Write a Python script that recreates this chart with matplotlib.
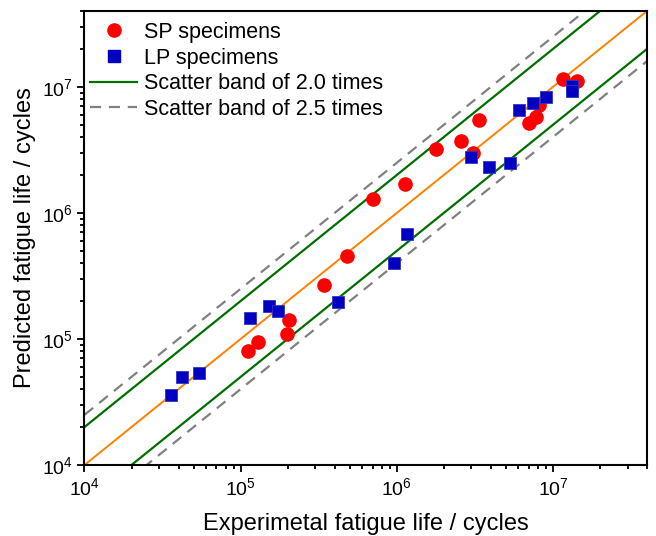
import matplotlib
matplotlib.use("Agg")
import matplotlib.pyplot as plt
from matplotlib.lines import Line2D
import numpy as np

plt.rcParams['font.family'] = ['Liberation Sans', 'DejaVu Sans']
plt.rcParams['mathtext.default'] = 'regular'

# Данные: экспериментальная / прогнозная долговечность
sp_exp = [1.12e5, 1.29e5, 2.03e5, 1.98e5, 3.40e5, 4.83e5, 7.0e5, 1.12e6, 1.77e6,
          2.58e6, 3.09e6, 3.37e6, 7.0e6, 7.8e6, 8.1e6, 1.16e7, 1.43e7]
sp_pred = [8.0e4, 9.4e4, 1.42e5, 1.10e5, 2.67e5, 4.57e5, 1.29e6, 1.70e6, 3.24e6,
           3.73e6, 3.0e6, 5.45e6, 5.2e6, 5.8e6, 7.2e6, 1.16e7, 1.12e7]

lp_exp = [3.59e4, 4.19e4, 5.38e4, 1.156e5, 1.51e5, 1.73e5, 4.21e5, 9.66e5, 1.17e6,
          2.99e6, 3.91e6, 5.33e6, 6.06e6, 7.41e6, 8.98e6, 1.33e7, 1.32e7]
lp_pred = [3.59e4, 4.98e4, 5.38e4, 1.47e5, 1.84e5, 1.68e5, 1.98e5, 4.04e5, 6.79e5,
           2.78e6, 2.30e6, 2.47e6, 6.61e6, 7.46e6, 8.26e6, 1.01e7, 9.23e6]

band_2 = 2.0
band_25 = 2.5
lim = [1e4, 4e7]

fig = plt.figure(figsize=(6.56, 5.36), dpi=100)
ax = fig.add_axes([0.1288, 0.1325, 0.8575, 0.847])

x = np.array(lim)
ax.plot(x, x, color='#FF8000', lw=1.4, zorder=2)
ax.plot(x, x * band_25, color='#808080', lw=1.6, ls=(0, (5, 3.5)), zorder=1)
ax.plot(x, x / band_25, color='#808080', lw=1.6, ls=(0, (5, 3.5)), zorder=1)
ax.plot(x, x * band_2, color='#006E00', lw=1.6, zorder=2)
ax.plot(x, x / band_2, color='#006E00', lw=1.6, zorder=2)

ax.plot(sp_exp, sp_pred, 'o', color='#FF0000', ms=9.5, mec='#FF0000', zorder=3)
ax.plot(lp_exp, lp_pred, 's', color='#0000C0', ms=8, mec='#3333CC', mew=0.6, zorder=4)

ax.set_xscale('log')
ax.set_yscale('log')
ax.set_xlim(lim)
ax.set_ylim(lim)

# Легенда собирается вручную
handles = [
    Line2D([], [], ls='none', marker='o', color='#FF0000', ms=9.5),
    Line2D([], [], ls='none', marker='s', color='#0000C0', ms=8),
    Line2D([], [], color='#006E00', lw=1.6),
    Line2D([], [], color='#808080', lw=1.6, ls=(0, (5, 3.5))),
]
labels = ['SP specimens', 'LP specimens', 'Scatter band of 2.0 times', 'Scatter band of 2.5 times']
ax.legend(handles, labels, loc='upper left', bbox_to_anchor=(0, 0.988), frameon=False,
          fontsize=15.5, handlelength=2.2, handletextpad=0.3, labelspacing=0.22,
          borderaxespad=0.1, borderpad=0.15)

for s in ax.spines.values():
    s.set_linewidth(1.5)
ax.tick_params(which='both', direction='out', top=False, right=False, width=1.3, labelsize=14)
ax.tick_params(which='major', length=5)
ax.tick_params(which='minor', length=3)

ax.set_xlabel('Experimetal fatigue life / cycles', fontsize=17, labelpad=10)
ax.set_ylabel('Predicted fatigue life / cycles', fontsize=17, labelpad=4)

fig.savefig('out.png', dpi=100)
